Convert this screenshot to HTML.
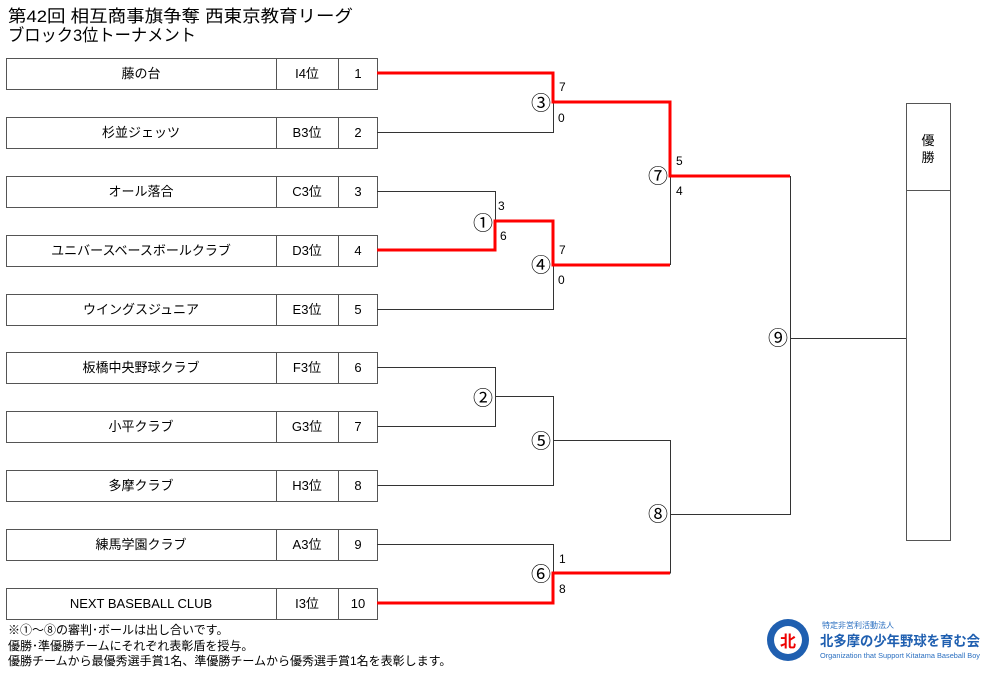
<!DOCTYPE html>
<html><head><meta charset="utf-8"><style>
body{margin:0;width:1007px;height:677px;background:#fff;overflow:hidden;font-family:"Liberation Sans","Noto Sans CJK JP",sans-serif;}
svg{position:absolute;left:0;top:0}
</style></head><body>
<svg width="1007" height="677" xmlns="http://www.w3.org/2000/svg" font-family="Liberation Sans, Noto Sans CJK JP, sans-serif">
<text x="8" y="22" font-size="17" textLength="345" lengthAdjust="spacingAndGlyphs">第42回 相互商事旗争奪 西東京教育リーグ</text>
<text x="8" y="41" font-size="17" textLength="188" lengthAdjust="spacingAndGlyphs">ブロック3位トーナメント</text>
<g stroke="#555" fill="#fff" stroke-width="1">
<rect x="6.5" y="58.5" width="371" height="31"/><rect x="6.5" y="117.5" width="371" height="31"/>
<rect x="6.5" y="176.5" width="371" height="31"/><rect x="6.5" y="235.5" width="371" height="31"/>
<rect x="6.5" y="294.5" width="371" height="31"/><rect x="6.5" y="352.5" width="371" height="31"/>
<rect x="6.5" y="411.5" width="371" height="31"/><rect x="6.5" y="470.5" width="371" height="31"/>
<rect x="6.5" y="529.5" width="371" height="31"/><rect x="6.5" y="588.5" width="371" height="31"/>
<path d="M276.5 58v31M338.5 58v31M276.5 117v31M338.5 117v31M276.5 176v31M338.5 176v31M276.5 235v31M338.5 235v31M276.5 294v31M338.5 294v31M276.5 352v31M338.5 352v31M276.5 411v31M338.5 411v31M276.5 470v31M338.5 470v31M276.5 529v31M338.5 529v31M276.5 588v31M338.5 588v31"/>
<rect x="906.5" y="103.5" width="44" height="437"/>
<path d="M906 190.5h44"/>
</g>
<g stroke="#333" fill="none" stroke-width="1">
<path d="M377 132.5h176.5v-30"/>
<path d="M377 191.5h118.5v29"/>
<path d="M377 309.5h176.5v-45"/>
<path d="M670.5 176v89"/>
<path d="M790.5 176v338.5h-120M790 338.5h116"/>
<path d="M377 367.5h118.5v59h-118M495 396.5h58.5v89h-176M553 440.5h117.5v133M377 544.5h176.5v29"/>
</g>
<g stroke="#f00" fill="none" stroke-width="3">
<path d="M377 73h176v29h117v74h120"/>
<path d="M377 250h118v-29h58v44h117"/>
<path d="M377 603h176v-30h117"/>
</g>
<g font-size="13" text-anchor="middle">
<text x="141" y="78">藤の台</text><text x="307" y="78">I4位</text><text x="358" y="78">1</text>
<text x="141" y="137">杉並ジェッツ</text><text x="307" y="137">B3位</text><text x="358" y="137">2</text>
<text x="141" y="196">オール落合</text><text x="307" y="196">C3位</text><text x="358" y="196">3</text>
<text x="141" y="255">ユニバースベースボールクラブ</text><text x="307" y="255">D3位</text><text x="358" y="255">4</text>
<text x="141" y="314">ウイングスジュニア</text><text x="307" y="314">E3位</text><text x="358" y="314">5</text>
<text x="141" y="372">板橋中央野球クラブ</text><text x="307" y="372">F3位</text><text x="358" y="372">6</text>
<text x="141" y="431">小平クラブ</text><text x="307" y="431">G3位</text><text x="358" y="431">7</text>
<text x="141" y="490">多摩クラブ</text><text x="307" y="490">H3位</text><text x="358" y="490">8</text>
<text x="141" y="549">練馬学園クラブ</text><text x="307" y="549">A3位</text><text x="358" y="549">9</text>
<text x="141" y="608">NEXT BASEBALL CLUB</text><text x="307" y="608">I3位</text><text x="358" y="608">10</text>
<text x="928" y="145">優</text><text x="928" y="162">勝</text>
</g>
<g font-size="20" text-anchor="middle" font-family="Noto Sans CJK JP, sans-serif">
<text x="541" y="110">③</text><text x="483" y="230">①</text><text x="541" y="272">④</text>
<text x="658" y="183">⑦</text><text x="778" y="345">⑨</text><text x="483" y="405">②</text>
<text x="541" y="448">⑤</text><text x="658" y="521">⑧</text><text x="541" y="581">⑥</text>
</g>
<g font-size="12">
<text x="559" y="91">7</text><text x="558" y="122">0</text>
<text x="498" y="210">3</text><text x="500" y="240">6</text>
<text x="559" y="254">7</text><text x="558" y="284">0</text>
<text x="676" y="165">5</text><text x="676" y="195">4</text>
<text x="559" y="563">1</text><text x="559" y="593">8</text>
</g>
<g font-size="12">
<text x="8" y="634">※①～⑧の審判･ボールは出し合いです。</text>
<text x="8" y="650">優勝･準優勝チームにそれぞれ表彰盾を授与。</text>
<text x="8" y="665">優勝チームから最優秀選手賞1名、準優勝チームから優秀選手賞1名を表彰します。</text>
</g>
<circle cx="788" cy="640" r="21" fill="#1f5fb0"/>
<circle cx="788" cy="640" r="14" fill="#fff"/>
<text x="788" y="647" font-size="16" fill="#e00" text-anchor="middle" font-weight="bold">北</text>
<text x="822" y="628" font-size="8" fill="#2a6fc0">特定非営利活動法人</text>
<text x="820" y="646" font-size="14" fill="#1f5fb0" font-weight="bold" textLength="160" lengthAdjust="spacingAndGlyphs">北多摩の少年野球を育む会</text>
<text x="820" y="658" font-size="7" fill="#2a6fc0" textLength="160" lengthAdjust="spacingAndGlyphs">Organization that Support Kitatama Baseball Boy</text>
</svg>
</body></html>
